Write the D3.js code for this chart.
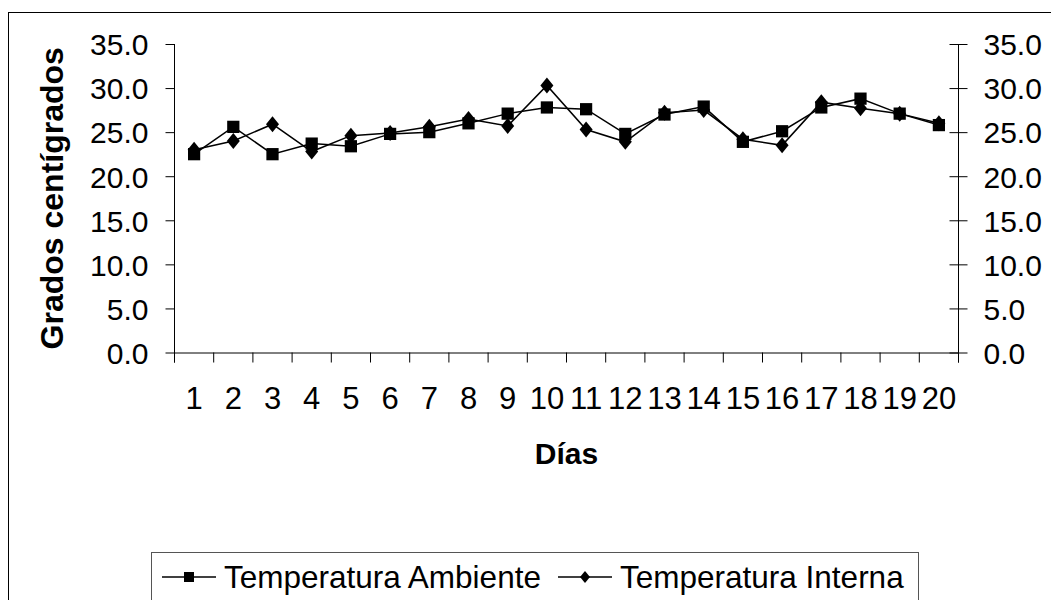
<!DOCTYPE html>
<html>
<head>
<meta charset="utf-8">
<script src="https://cdn.jsdelivr.net/npm/d3@7"></script>
<style>
  html, body { margin: 0; padding: 0; background: #fff; }
  svg { display: block; font-family: "Liberation Sans", Arial, sans-serif; }
</style>
</head>
<body>
<svg id="chart" width="1051" height="600"></svg>
<script>
// Daily temperatures (°C)
const dias = ["1","2","3","4","5","6","7","8","9","10","11","12","13","14","15","16","17","18","19","20"];
const tempAmbiente = [22.5, 25.6, 22.5, 23.7, 23.4, 24.8, 25.0, 26.0, 27.1, 27.8, 27.6, 24.8, 27.0, 27.9, 23.9, 25.1, 27.8, 28.8, 27.1, 25.8];
const tempInterna  = [23.0, 24.0, 25.9, 22.8, 24.6, 24.9, 25.6, 26.5, 25.7, 30.3, 25.3, 23.9, 27.2, 27.5, 24.2, 23.5, 28.4, 27.7, 27.1, 26.0];
const yTicks = [0, 5, 10, 15, 20, 25, 30, 35];
const seriesNames = ["Temperatura Ambiente", "Temperatura Interna"];

const svg = d3.select("#chart");
const plotLeft = 174.5, plotRight = 958.5, plotTop = 44, plotBottom = 352.5;

// Outer chart frame
svg.append("rect")
  .attr("x", 8.5).attr("y", 12.5)
  .attr("width", 1200).attr("height", 800)
  .attr("fill", "none").attr("stroke", "#000").attr("stroke-width", 1);

const x = d3.scaleBand().domain(dias).range([plotLeft, plotRight]).padding(0);
const y = d3.scaleLinear().domain([0, 35]).range([plotBottom, plotTop]);
const cx = d => x(d) + x.bandwidth() / 2;

const fmt = d3.format(".1f");

// Left value axis
const gL = svg.append("g").attr("transform", `translate(${plotLeft},0)`)
  .call(d3.axisLeft(y).tickValues(yTicks).tickFormat(fmt).tickSize(9).tickPadding(17));
// Right value axis (cross ticks)
const gR = svg.append("g").attr("transform", `translate(${plotRight},0)`)
  .call(d3.axisRight(y).tickValues(yTicks).tickFormat(fmt).tickSize(9).tickPadding(16));
gR.selectAll(".tick line").attr("x1", -9).attr("x2", 9);

[gL, gR].forEach(g => {
  g.select(".domain").remove();
  g.selectAll(".tick line").attr("stroke", "#000");
  g.selectAll(".tick text").attr("fill", "#000")
    .style("font-size", "30px").attr("dy", "0.36em");
  // axis line runs down to the category tick length
  g.append("line").attr("x1", 0).attr("x2", 0)
    .attr("y1", plotTop).attr("y2", plotBottom + 10).attr("stroke", "#000");
});

// Category axis: labels centred in bands, ticks at band edges
const gX = svg.append("g").attr("transform", `translate(0,${plotBottom})`)
  .call(d3.axisBottom(x).tickSize(0).tickPadding(0));
gX.select(".domain").attr("stroke", "#000");
gX.selectAll(".tick text").attr("fill", "#000")
  .style("font-size", "31px").attr("y", 56).attr("dy", 0);
const edges = dias.map(d => x(d)).concat([x(dias[dias.length - 1]) + x.bandwidth()]);
gX.selectAll("line.edge").data(edges).join("line")
  .attr("class", "edge")
  .attr("x1", d => d).attr("x2", d => d)
  .attr("y1", 0).attr("y2", 10)
  .attr("stroke", "#000");

// Axis titles
svg.append("text")
  .attr("transform", `translate(63,${(plotTop + plotBottom) / 2}) rotate(-90)`)
  .attr("text-anchor", "middle")
  .style("font-size", "32px").style("font-weight", "bold")
  .text("Grados centígrados");
svg.append("text")
  .attr("x", (plotLeft + plotRight) / 2).attr("y", 464)
  .attr("text-anchor", "middle")
  .style("font-size", "30px").style("font-weight", "bold")
  .text("Días");

// Series
const line = d3.line().x((d, i) => cx(dias[i])).y(d => y(d));
const squareSym = d3.symbol().type(d3.symbolSquare).size(150);
const diamondPath = "M0,-8L6.5,0L0,8L-6.5,0Z";

svg.append("path").datum(tempAmbiente)
  .attr("d", line).attr("fill", "none").attr("stroke", "#000").attr("stroke-width", 1.5);
svg.append("path").datum(tempInterna)
  .attr("d", line).attr("fill", "none").attr("stroke", "#000").attr("stroke-width", 1.5);

svg.append("g").selectAll("path").data(tempAmbiente).join("path")
  .attr("transform", (d, i) => `translate(${cx(dias[i])},${y(d)})`)
  .attr("d", squareSym()).attr("fill", "#000");
svg.append("g").selectAll("path").data(tempInterna).join("path")
  .attr("transform", (d, i) => `translate(${cx(dias[i])},${y(d)})`)
  .attr("d", diamondPath).attr("fill", "#000");

// Legend
const lg = svg.append("g");
lg.append("rect")
  .attr("x", 151.5).attr("y", 552.5).attr("width", 767).attr("height", 80)
  .attr("fill", "#fff").attr("stroke", "#555").attr("stroke-width", 1);
const legendItems = [
  { name: seriesNames[0], x0: 162, marker: "square" },
  { name: seriesNames[1], x0: 558, marker: "diamond" }
];
legendItems.forEach(it => {
  const g = lg.append("g").attr("transform", `translate(${it.x0},577)`);
  g.append("line").attr("x1", 0).attr("x2", 54).attr("y1", 0).attr("y2", 0)
    .attr("stroke", "#000").attr("stroke-width", 1.5);
  if (it.marker === "square") {
    g.append("rect").attr("x", 22).attr("y", -5).attr("width", 10).attr("height", 10).attr("fill", "#000");
  } else {
    g.append("path").attr("transform", "translate(27,0)").attr("d", "M0,-6L5,0L0,6L-5,0Z").attr("fill", "#000");
  }
  g.append("text").attr("x", 62).attr("y", 0).attr("dy", "0.36em")
    .style("font-size", "31.5px").text(it.name);
});
</script>
</body>
</html>
